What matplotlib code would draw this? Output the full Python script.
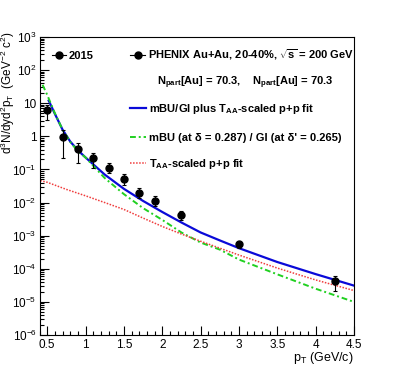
import numpy as np
import matplotlib
matplotlib.use('Agg')
import matplotlib.pyplot as plt
from matplotlib.lines import Line2D
from matplotlib.ticker import LogLocator, MultipleLocator, FixedLocator, FuncFormatter, NullFormatter

plt.rcParams['font.family'] = ['Liberation Sans', 'DejaVu Sans']
plt.rcParams['mathtext.fontset'] = 'custom'
plt.rcParams['mathtext.rm'] = 'Liberation Sans'
plt.rcParams['mathtext.it'] = 'Liberation Sans:italic'
plt.rcParams['mathtext.bf'] = 'Liberation Sans:bold'

# measured spectrum (2015)
pt = [0.5, 0.7, 0.9, 1.1, 1.3, 1.5, 1.7, 1.9, 2.25, 3.0, 4.25]
yld = [6.3, 0.93, 0.41, 0.22, 0.107, 0.050, 0.020, 0.0112, 0.0042, 5.5e-4, 4.4e-5]
err_hi = [2.6, 0.67, 0.22, 0.10, 0.048, 0.021, 0.008, 0.0048, 0.0014, 1.1e-4, 1.6e-5]
err_lo = [3.1, 0.71, 0.25, 0.11, 0.030, 0.016, 0.0065, 0.0033, 0.0012, 1.4e-4, 2.2e-5]

# mBU/GI plus T_AA-scaled p+p fit
pt_blue = [0.52, 0.6, 0.7, 0.8, 0.9, 1.0, 1.25, 1.5, 1.75, 2.0, 2.25, 2.5, 2.75, 3.0, 3.5, 4.0, 4.5]
y_blue = [12.0, 4.8, 1.6, 0.70, 0.38, 0.23, 0.07, 0.026, 0.0112, 0.0052, 0.0025,
          1.25e-3, 7.2e-4, 4.2e-4, 1.6e-4, 6.9e-5, 3.1e-5]

# mBU / GI
pt_green = [0.44, 0.5, 0.6, 0.7, 0.8, 0.9, 1.0, 1.25, 1.5, 1.75, 2.0, 2.25, 2.5, 2.75, 3.0, 3.5, 4.0, 4.5]
y_green = [36.0, 18.0, 5.0, 1.6, 0.68, 0.36, 0.23, 0.055, 0.018, 0.0068, 0.0030, 0.00125,
           6.2e-4, 3.8e-4, 1.9e-4, 6.8e-5, 2.5e-5, 1.0e-5]

# T_AA-scaled p+p fit
pt_red = [0.41, 0.5, 0.75, 1.0, 1.25, 1.5, 1.75, 2.0, 2.25, 2.5, 2.75, 3.0, 3.5, 4.0, 4.5]
y_red = [0.046, 0.041, 0.025, 0.016, 0.010, 0.0062, 0.0034, 0.0019, 0.00112, 6.8e-4,
         4.2e-4, 2.6e-4, 1.05e-4, 4.6e-5, 2.2e-5]

W, H = 394, 373
fig = plt.figure(figsize=(W / 100, H / 100), dpi=100)
ax = fig.add_axes([39.5 / W, 1 - 335 / H, 314.5 / W, 298 / H])

blue = '#0a0ad8'
green = '#20d020'
red = '#f03c3c'

ax.plot(pt_blue, y_blue, color=blue, lw=1.6)
ax.plot(pt_green, y_green, color=green, lw=1.4, linestyle=(0, (3, 1.5, 1, 1.5)))
ax.plot(pt_red, y_red, color=red, lw=1.1, linestyle=(0, (1, 1)))
ax.errorbar(pt, yld, yerr=[err_lo, err_hi], fmt='o', color='k', ms=5,
            elinewidth=0.8, capsize=1.5, capthick=0.8)

ax.set_yscale('log')
ax.set_xlim(0.4, 4.5)
ax.set_ylim(1e-6, 1e3)

ax.xaxis.set_major_locator(MultipleLocator(0.5))
ax.xaxis.set_minor_locator(MultipleLocator(0.1))
ax.xaxis.set_major_formatter(FuncFormatter(lambda v, p: '%g' % v))
ax.yaxis.set_major_locator(FixedLocator([10.0 ** e for e in range(-6, 4)]))
ax.yaxis.set_minor_locator(LogLocator(base=10, subs=np.arange(2, 10), numticks=30))
ax.yaxis.set_minor_formatter(NullFormatter())


def ylab(v, pos):
    e = int(round(np.log10(v)))
    if e == 0:
        return '1'
    if e == 1:
        return '10'
    return r'$10^{%d}$' % e


ax.yaxis.set_major_formatter(FuncFormatter(ylab))
ax.tick_params(which='both', direction='in', top=False, right=False, width=0.8, labelsize=8.5)
ax.tick_params(which='major', length=6.5)
ax.tick_params(which='minor', length=3.2)
ax.tick_params(axis='x', pad=3)
ax.tick_params(axis='y', pad=2)
for s in ax.spines.values():
    s.set_linewidth(0.8)

fig.text(8 / W, 1 - 31 / H, r'd$^{3}$N/dyd$^{2}$p$_{\mathrm{T}}$  (GeV$^{-2}$ c$^{2}$)',
         rotation=90, ha='center', va='top', fontsize=8.5)
fig.text(354 / W, 1 - 358 / H, r'p$_{\mathrm{T}}$ (GeV/c)', ha='right', va='center', fontsize=9)


def fx(px):
    return px / W


def fy(px):
    return 1 - px / H


bold = dict(fontsize=8, fontweight='bold', va='baseline')


def entry(x0, x1, y, label, style=None, marker=False, tx=None):
    if style is not None:
        fig.add_artist(Line2D([fx(x0), fx(x1)], [fy(y), fy(y)], transform=fig.transFigure, **style))
    if marker:
        fig.add_artist(Line2D([fx((x0 + x1) / 2)], [fy(y)], transform=fig.transFigure,
                              marker='o', ms=5, color='k', linestyle='none'))
    fig.text(fx(tx if tx else x1 + 3), fy(y + 3.8), label, **bold)


data_line = dict(color='k', lw=0.8)
entry(52, 66, 55, '2015', data_line, marker=True)
entry(130, 145, 55, r'PHENIX Au+Au, 20-40%, $\sqrt{\mathbf{s}}$ = 200 GeV', data_line, marker=True)
entry(130, 145, 81, r'N$_{\mathbf{part}}$[Au] = 70.3,    N$_{\mathbf{part}}$[Au] = 70.3', tx=157)
entry(130, 146, 108, r'mBU/GI plus T$_{\mathbf{AA}}$-scaled p+p fit', dict(color=blue, lw=1.6))
entry(130, 146, 137, "mBU (at \u03b4 = 0.287) / GI (at \u03b4' = 0.265)",
      dict(color=green, lw=1.4, linestyle=(0, (3, 1.5, 1, 1.5))))
entry(130, 146, 163, r'T$_{\mathbf{AA}}$-scaled p+p fit', dict(color=red, lw=1.1, linestyle=(0, (1, 1))))

fig.savefig('out.png', dpi=100)
